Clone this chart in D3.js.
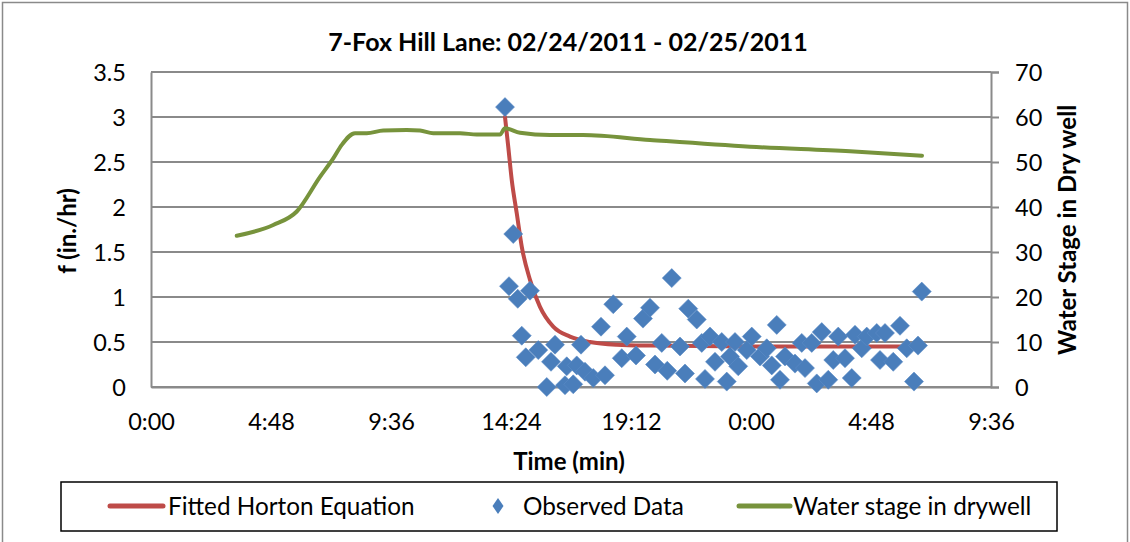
<!DOCTYPE html>
<html>
<head>
<meta charset="utf-8">
<script src="https://cdn.jsdelivr.net/npm/d3@7"></script>
<style>
  body { margin: 0; background: #fff; }
  text { font-family: Lato, "Open Sans", sans-serif; fill: #000; }
</style>
</head>
<body>
<script>
// time in hours since 02/24/2011 0:00
const hortonTime = [14.16, 14.29, 14.43, 14.63, 14.83, 15.16, 15.56, 16.09, 16.76, 17.56, 18.63, 19.96, 23.96, 30.48];
const hortonF    = [3.00, 2.67, 2.30, 1.93, 1.56, 1.19, 0.89, 0.67, 0.56, 0.50, 0.47, 0.46, 0.45, 0.45];

const obsTime = [14.16, 14.32, 14.49, 14.67, 14.83, 14.99, 15.16, 15.49, 15.83, 16.00,
  16.16, 16.56, 16.63, 16.89, 17.03, 17.20, 17.36, 17.69, 18.00, 18.16,
  18.49, 18.83, 19.03, 19.40, 19.68, 19.96, 20.16, 20.43, 20.65, 20.83,
  21.16, 21.36, 21.49, 21.83, 22.03, 22.16, 22.36, 22.56, 22.83, 23.03,
  23.16, 23.36, 23.49, 23.83, 24.03, 24.36, 24.63, 24.83, 25.03, 25.16,
  25.36, 25.76, 26.03, 26.16, 26.43, 26.63, 26.83, 27.09, 27.29, 27.49,
  27.76, 28.03, 28.16, 28.43, 28.63, 29.03, 29.16, 29.36, 29.69, 29.96,
  30.23, 30.52, 30.68, 30.83];
const obsF = [3.11, 1.12, 1.70, 0.98, 0.57, 0.33, 1.07, 0.41, 0.00, 0.28,
  0.47, 0.02, 0.23, 0.03, 0.24, 0.47, 0.17, 0.10, 0.67, 0.13,
  0.92, 0.32, 0.56, 0.35, 0.76, 0.88, 0.25, 0.49, 0.18, 1.21,
  0.45, 0.15, 0.87, 0.75, 0.49, 0.09, 0.56, 0.28, 0.50, 0.06,
  0.34, 0.50, 0.23, 0.41, 0.56, 0.34, 0.43, 0.24, 0.69, 0.08,
  0.34, 0.26, 0.49, 0.21, 0.49, 0.04, 0.61, 0.08, 0.30, 0.56,
  0.32, 0.10, 0.58, 0.43, 0.56, 0.60, 0.30, 0.60, 0.28, 0.68,
  0.43, 0.06, 0.46, 1.06];

const stageTime = [3.43, 4.89, 5.83, 6.76, 7.29, 7.63, 8.16, 8.63, 9.29, 10.23, 10.76, 11.29,
  12.36, 13.03, 13.96, 14.16, 14.76, 15.96, 17.28, 19.96, 23.96, 27.96, 30.84];
const stage = [33.6, 36.0, 39.0, 46.7, 50.8, 53.8, 56.4, 56.4, 57.0, 57.1, 57.0, 56.4,
  56.4, 56.1, 56.1, 57.5, 56.5, 56.0, 56.0, 54.9, 53.4, 52.4, 51.4];

const xTicks = [0, 4.8, 9.6, 14.4, 19.2, 24, 28.8, 33.6];
const fTicks = [0, 0.5, 1, 1.5, 2, 2.5, 3, 3.5];
const stageTicks = [0, 10, 20, 30, 40, 50, 60, 70];

const W = 1130, H = 542;
const plotL = 151, plotR = 991, plotT = 72, plotB = 387;

const svg = d3.select("body").append("svg")
  .attr("width", W)
  .attr("height", H);

// chart frame
svg.append("rect")
  .attr("x", 2.5).attr("y", 2.5)
  .attr("width", 1125).attr("height", 560)
  .attr("fill", "#fff")
  .attr("stroke", "#8a8a8a")
  .attr("stroke-width", 1.5);

const x = d3.scaleLinear().domain([0, 33.6]).range([plotL, plotR]);
const yF = d3.scaleLinear().domain([0, 3.5]).range([plotB, plotT]);
const yS = d3.scaleLinear().domain([0, 70]).range([plotB, plotT]);

const grey = "#8a8a8a";

// gridlines
svg.append("g")
  .selectAll("line")
  .data(fTicks)
  .join("line")
  .attr("x1", plotL).attr("x2", plotR)
  .attr("y1", d => yF(d)).attr("y2", d => yF(d))
  .attr("stroke", grey)
  .attr("stroke-width", 2);

const tickFmt = t => {
  const h = t % 24;
  const hh = Math.floor(h + 1e-6);
  const mm = Math.round((h - hh) * 60);
  return hh + ":" + String(mm).padStart(2, "0");
};

// axes
const xAxis = svg.append("g")
  .attr("transform", `translate(0,${plotB})`)
  .call(d3.axisBottom(x).tickValues(xTicks).tickFormat(tickFmt).tickSize(0).tickPadding(26));
const yAxisL = svg.append("g")
  .attr("transform", `translate(${plotL},0)`)
  .call(d3.axisLeft(yF).tickValues(fTicks).tickFormat(d3.format("")).tickSize(0).tickPadding(25));
const yAxisR = svg.append("g")
  .attr("transform", `translate(${plotR},0)`)
  .call(d3.axisRight(yS).tickValues(stageTicks).tickSize(8).tickPadding(16));

[xAxis, yAxisL, yAxisR].forEach(g => {
  g.select(".domain").attr("stroke", grey).attr("stroke-width", 2);
  g.selectAll(".tick line").attr("stroke", grey).attr("stroke-width", 2);
  g.selectAll(".tick text")
    .attr("font-size", 23.5)
    .attr("font-family", "Lato, sans-serif")
    .attr("fill", "#000");
});
yAxisL.selectAll(".tick text").attr("dy", "0.36em");
yAxisR.selectAll(".tick text").attr("dy", "0.36em");
xAxis.selectAll(".tick text").attr("dy", "0.71em");

// Fitted Horton
const horton = hortonTime.map((t, i) => [t, hortonF[i]]);
svg.append("path")
  .datum(horton)
  .attr("fill", "none")
  .attr("stroke", "#be4b48")
  .attr("stroke-width", 4)
  .attr("stroke-linecap", "round")
  .attr("d", d3.line().x(d => x(d[0])).y(d => yF(d[1])).curve(d3.curveMonotoneX));

// observed diamonds
const diamond = "M0,-9.5L9.5,0L0,9.5L-9.5,0Z";
svg.append("g")
  .selectAll("path")
  .data(obsTime.map((t, i) => [t, obsF[i]]))
  .join("path")
  .attr("d", diamond)
  .attr("transform", d => `translate(${x(d[0])},${yF(d[1])})`)
  .attr("fill", "#4a7ebb")
  .attr("stroke", "#5a8bc6")
  .attr("stroke-width", 0.6);

// water stage
const stageData = stageTime.map((t, i) => [t, stage[i]]);
svg.append("path")
  .datum(stageData)
  .attr("fill", "none")
  .attr("stroke", "#77933c")
  .attr("stroke-width", 4)
  .attr("stroke-linecap", "round")
  .attr("stroke-linejoin", "round")
  .attr("d", d3.line().x(d => x(d[0])).y(d => yS(d[1])).curve(d3.curveMonotoneX));

// titles
svg.append("text")
  .attr("x", 568).attr("y", 51)
  .attr("text-anchor", "middle")
  .attr("font-size", 25)
  .attr("font-weight", "bold")
  .text("7-Fox Hill Lane: 02/24/2011 - 02/25/2011");

svg.append("text")
  .attr("x", 569).attr("y", 470)
  .attr("text-anchor", "middle")
  .attr("font-size", 24)
  .attr("font-weight", "bold")
  .text("Time (min)");

svg.append("text")
  .attr("transform", "translate(76,231) rotate(-90)")
  .attr("text-anchor", "middle")
  .attr("font-size", 24)
  .attr("font-weight", "bold")
  .text("f (in./hr)");

svg.append("text")
  .attr("transform", "translate(1076,230) rotate(-90)")
  .attr("text-anchor", "middle")
  .attr("font-size", 24)
  .attr("font-weight", "bold")
  .text("Water Stage in Dry well");

// legend
const lg = svg.append("g");
lg.append("rect")
  .attr("x", 61).attr("y", 482)
  .attr("width", 996).attr("height", 49)
  .attr("fill", "#fff")
  .attr("stroke", "#000")
  .attr("stroke-width", 1.5);

const ly = 506;
const lgSize = 24.3;
lg.append("line")
  .attr("x1", 110).attr("x2", 163).attr("y1", ly).attr("y2", ly)
  .attr("stroke", "#be4b48").attr("stroke-width", 5).attr("stroke-linecap", "round");
lg.append("text").attr("x", 168).attr("y", ly).attr("dy", "0.36em")
  .attr("font-size", lgSize).text("Fitted Horton Equation");

lg.append("path")
  .attr("d", "M0,-8L5.5,0L0,8L-5.5,0Z")
  .attr("transform", `translate(498,${ly})`)
  .attr("fill", "#4a7ebb");
lg.append("text").attr("x", 523).attr("y", ly).attr("dy", "0.36em")
  .attr("font-size", lgSize).text("Observed Data");

lg.append("line")
  .attr("x1", 739).attr("x2", 790).attr("y1", ly).attr("y2", ly)
  .attr("stroke", "#77933c").attr("stroke-width", 5).attr("stroke-linecap", "round");
lg.append("text").attr("x", 793).attr("y", ly).attr("dy", "0.36em")
  .attr("font-size", lgSize).text("Water stage in drywell");
</script>
</body>
</html>
